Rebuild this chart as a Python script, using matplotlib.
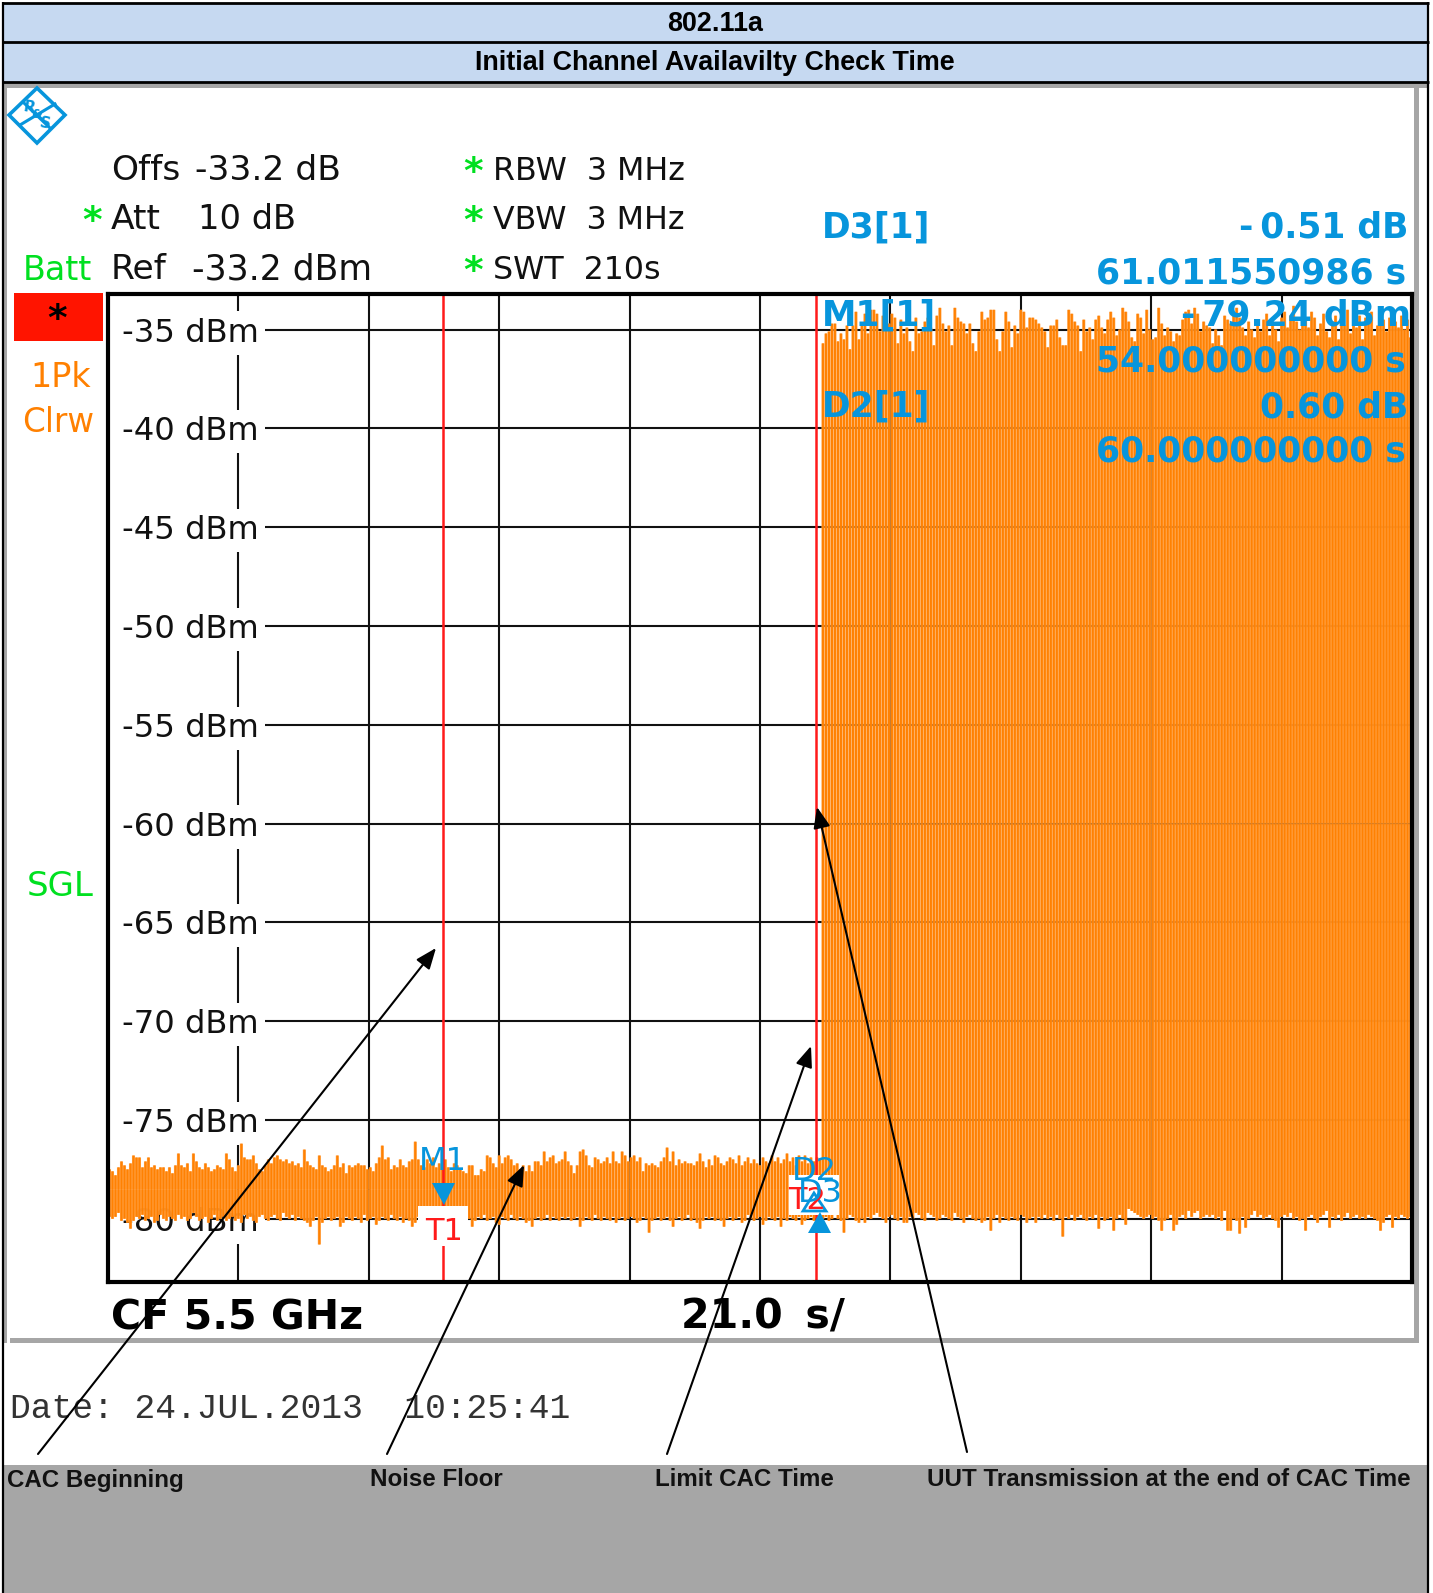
"""802.11a CAC screenshot: spectrum analyser zero-span trace with readouts and call-outs."""
import numpy as np
import matplotlib; matplotlib.use("Agg")
import matplotlib.pyplot as plt
from matplotlib.patches import Rectangle, Polygon

W, H = 1433, 1593
BLUE = "#0795dc"; GREEN = "#00e020"; ORANGE = "#ff8000"; RED = "#ff1a1a"; GREY = "#a6a6a6"

# trace values (dBm), one bar per sweep group
noise_top = [
 -77.5,-77.6,-77.8,-77.4,-77.1,-77.3,-77.5,-77.2,-76.8,-76.9,-76.9,-77.4,-77.1,-76.9,-77.4,-77.3,-77.5,-77.4,-77.4,-77.6,
 -77.4,-77.7,-77.3,-76.7,-77.3,-77.4,-77.2,-77.6,-76.7,-77.1,-77.4,-77.5,-77.2,-77.4,-77.6,-77.5,-77.3,-77.4,-77.5,-76.7,
 -77.0,-77.4,-77.6,-77.3,-76.2,-76.9,-77.0,-77.0,-76.8,-77.2,-77.5,-77.6,-77.3,-77.0,-77.2,-76.9,-76.8,-77.0,-77.1,-77.0,
 -77.2,-77.1,-77.3,-77.2,-77.4,-76.5,-77.1,-77.3,-77.4,-77.5,-76.8,-77.3,-77.4,-77.6,-77.5,-77.3,-76.8,-77.4,-77.2,-77.7,
 -77.3,-77.4,-77.3,-77.2,-77.3,-77.3,-77.5,-77.4,-77.6,-77.2,-76.9,-76.3,-77.0,-76.9,-77.5,-77.3,-77.4,-77.0,-77.3,-77.4,
 -77.1,-77.0,-76.1,-77.0,-77.3,-77.4,-77.0,-77.2,-76.9,-77.4,-77.2,-77.3,-77.0,-77.4,-77.6,-77.2,-77.3,-77.5,-77.6,-77.7,
 -77.3,-77.3,-77.8,-77.8,-77.5,-77.6,-76.8,-76.9,-77.2,-77.4,-76.8,-77.2,-76.9,-76.8,-77.0,-77.3,-77.2,-77.5,-77.3,-77.6,
 -77.3,-77.6,-77.1,-77.1,-77.3,-76.6,-77.1,-76.9,-76.8,-77.2,-77.1,-77.0,-76.6,-77.1,-77.3,-77.7,-77.3,-76.6,-76.5,-76.8,
 -77.3,-77.4,-76.9,-77.0,-77.2,-77.1,-76.9,-77.2,-76.6,-77.1,-77.2,-76.6,-76.8,-77.1,-76.9,-76.8,-77.1,-76.9,-77.6,-77.2,
 -77.3,-77.2,-77.3,-77.4,-77.1,-76.9,-76.4,-77.1,-76.6,-77.3,-77.0,-77.2,-77.1,-77.2,-77.2,-77.3,-77.1,-76.7,-77.1,-77.4,
 -77.0,-77.3,-76.8,-76.9,-77.2,-77.3,-77.1,-76.9,-77.0,-77.2,-76.8,-77.3,-77.1,-76.9,-77.2,-77.0,-77.2,-77.3,-76.9,-77.1,
 -77.2,-76.8,-77.1,-76.9,-77.2,-77.0,-76.7,-77.1,-76.9,-77.3,-76.8,-77.1,-76.8,-77.2,-76.9,-77.1,-76.9,-77.0]
noise_bot = [
 -79.9,-80.0,-79.9,-79.7,-80.1,-80.0,-80.2,-80.5,-80.1,-79.9,-80.0,-79.8,-80.1,-80.0,-79.9,-80.2,-80.1,-79.8,-80.0,-80.1,
 -79.9,-80.0,-80.1,-79.8,-80.0,-79.9,-80.1,-80.0,-79.7,-79.9,-80.1,-80.0,-79.9,-80.2,-80.0,-79.8,-80.1,-80.0,-79.9,-80.1,
 -80.0,-79.9,-80.1,-80.0,-80.2,-79.8,-80.0,-79.9,-80.1,-80.2,-79.9,-79.8,-80.0,-80.1,-79.9,-79.8,-80.0,-80.1,-79.7,-79.9,
 -80.0,-79.8,-80.1,-79.9,-80.0,-80.1,-80.2,-80.4,-80.1,-79.9,-81.3,-80.2,-80.0,-79.9,-80.1,-80.0,-79.9,-80.4,-80.2,-79.9,
 -80.0,-80.1,-79.9,-80.0,-80.2,-79.8,-80.1,-80.0,-79.9,-80.3,-80.1,-79.9,-80.0,-80.1,-79.8,-80.0,-80.1,-79.9,-80.2,-80.0,
 -80.1,-80.4,-80.2,-79.9,-80.0,-80.1,-79.9,-80.0,-80.2,-80.0,-79.9,-80.1,-80.0,-79.8,-80.1,-80.0,-79.9,-80.1,-80.0,-80.1,
 -80.0,-80.4,-80.1,-79.9,-80.0,-79.8,-80.1,-80.0,-79.9,-80.2,-80.3,-79.9,-80.0,-80.1,-79.8,-80.0,-80.1,-79.9,-80.0,-80.2,
 -80.1,-80.4,-80.0,-79.9,-80.1,-80.0,-79.8,-80.1,-79.9,-80.0,-80.1,-79.9,-80.0,-79.9,-80.1,-80.0,-79.9,-80.4,-80.1,-79.9,
 -80.0,-80.1,-79.8,-80.0,-80.1,-79.9,-80.0,-80.1,-79.9,-80.2,-80.0,-79.9,-80.1,-80.0,-79.9,-80.0,-80.2,-80.1,-79.9,-80.0,
 -80.7,-80.1,-80.0,-79.9,-80.1,-80.0,-79.9,-80.1,-80.4,-80.0,-79.9,-80.1,-80.0,-79.8,-80.1,-80.0,-80.2,-80.5,-80.1,-79.9,
 -80.0,-79.9,-80.1,-80.0,-80.1,-80.4,-80.0,-79.9,-80.1,-80.0,-79.9,-80.2,-80.1,-79.8,-80.0,-80.1,-80.0,-79.9,-80.3,-80.1,
 -79.9,-80.0,-80.1,-79.9,-80.4,-80.0,-80.1,-79.9,-80.0,-80.1,-79.9,-80.3,-80.1,-80.0,-79.9,-80.1,-80.0,-80.2]
tx_top = [
 -35.7,-35.2,-35.1,-34.7,-34.7,-35.6,-35.2,-35.5,-34.8,-36.0,-34.8,-34.1,-35.5,-34.7,-34.2,-35.2,-34.0,-34.0,-34.2,-35.1,
 -34.3,-33.9,-34.7,-34.2,-34.4,-35.7,-34.5,-35.2,-34.9,-35.6,-36.1,-34.4,-35.2,-35.1,-34.6,-34.4,-34.9,-35.8,-34.3,-33.9,
 -34.7,-35.1,-34.8,-35.8,-33.9,-34.4,-34.6,-34.7,-35.2,-34.7,-35.7,-36.1,-35.1,-34.1,-34.5,-34.4,-34.0,-34.0,-35.5,-36.1,
 -35.1,-34.1,-34.6,-35.9,-34.8,-35.2,-34.0,-34.1,-34.9,-34.4,-34.4,-34.5,-34.7,-34.9,-35.1,-35.9,-34.8,-34.8,-34.5,-35.4,
 -35.8,-35.8,-34.0,-34.2,-34.6,-34.8,-36.1,-34.5,-35.1,-34.9,-35.5,-34.5,-34.3,-34.9,-35.2,-34.5,-34.1,-34.4,-35.3,-35.0,
 -33.9,-34.1,-34.6,-35.4,-35.6,-34.2,-34.4,-35.2,-34.0,-35.0,-35.5,-35.4,-33.9,-34.7,-35.3,-34.9,-35.1,-35.6,-35.2,-35.3,
 -34.5,-34.1,-34.0,-34.7,-33.9,-34.2,-35.1,-34.6,-34.8,-34.9,-35.7,-35.0,-35.3,-35.8,-34.3,-34.5,-34.7,-34.2,-33.9,-34.4,
 -34.9,-35.3,-34.6,-35.0,-35.4,-34.7,-35.1,-34.5,-34.2,-35.3,-34.8,-35.0,-35.6,-34.4,-34.1,-34.9,-34.3,-33.8,-34.6,-35.0,
 -33.7,-34.5,-34.9,-34.1,-34.4,-35.3,-34.7,-34.2,-35.1,-35.4,-34.6,-34.3,-35.5,-34.5,-34.8,-34.0,-35.2,-34.6,-34.9,-34.3,
 -35.5,-34.4,-34.7,-34.1,-35.3,-34.8,-34.2,-34.5,-35.1,-34.4,-34.0,-34.6,-34.9,-34.3,-35.0,-34.5,-35.4]
tx_bot = [
 -80.0,-79.9,-80.1,-80.0,-79.8,-80.0,-80.1,-80.7,-80.0,-79.8,-79.9,-80.1,-80.2,-80.0,-80.2,-79.9,-80.0,-79.8,-79.7,-79.9,
 -80.0,-80.2,-79.9,-79.8,-80.0,-80.1,-79.9,-80.2,-80.2,-79.9,-80.0,-79.7,-79.8,-80.0,-80.1,-79.7,-79.8,-79.9,-80.1,-80.0,
 -79.8,-79.9,-80.0,-80.1,-79.7,-79.9,-80.0,-80.2,-79.9,-79.8,-80.0,-80.1,-80.0,-80.2,-80.1,-79.9,-80.6,-80.0,-79.8,-80.2,
 -79.9,-80.0,-80.1,-79.9,-80.0,-80.1,-79.8,-79.9,-80.2,-80.0,-79.9,-80.2,-79.9,-80.0,-79.8,-80.0,-79.9,-80.1,-79.8,-80.0,
 -80.9,-79.9,-80.0,-79.8,-80.1,-79.9,-79.8,-80.0,-80.1,-79.9,-80.0,-79.8,-80.5,-79.9,-80.1,-80.0,-79.9,-80.6,-80.0,-79.8,
 -80.0,-80.3,-79.5,-79.6,-79.7,-79.8,-79.9,-80.0,-79.9,-79.8,-80.0,-79.9,-80.1,-80.6,-80.1,-80.0,-79.8,-80.6,-80.3,-79.9,
 -79.8,-80.0,-79.6,-79.9,-79.7,-79.6,-80.0,-79.9,-79.8,-79.9,-79.8,-80.0,-79.9,-80.1,-79.6,-80.6,-80.6,-80.0,-80.1,-80.75,
 -79.9,-80.45,-80.0,-79.8,-79.6,-79.9,-79.8,-80.0,-79.9,-79.8,-80.0,-80.1,-80.45,-79.9,-79.8,-79.9,-79.7,-80.0,-79.9,-80.1,
 -80.0,-80.6,-79.9,-79.8,-80.0,-80.2,-79.9,-79.8,-79.6,-80.45,-79.9,-80.0,-79.8,-80.1,-79.9,-79.7,-80.0,-79.9,-79.8,-80.0,
 -79.9,-80.0,-79.8,-79.9,-80.0,-80.1,-80.6,-80.2,-79.9,-79.8,-80.45,-79.9,-80.0,-79.8,-79.9,-80.0,-79.9]

DB_TICKS = [-35, -40, -45, -50, -55, -60, -65, -70, -75, -80]
TIME_DIVS = [21, 42, 63, 84, 105, 126, 147, 168, 189]
T1 = 54.0; T2 = 114.0; TX_START = 114.9; SWEEP = 210.0
REF = -33.2; BOTTOM = -83.2
TITLES = ["802.11a", "Initial Channel Availavilty Check Time"]
CALLOUTS = ["CAC Beginning", "Noise Floor", "Limit CAC Time", "UUT Transmission at the end of CAC Time"]
# call-out arrows in picture pixels: tail x, tail y, head x, head y
ARROWS = [(38, 1454, 436, 948), (387, 1454, 524, 1165), (667, 1454, 811, 1046), (967, 1452, 817, 807)]

plt.rcParams["font.family"] = ["DejaVu Sans"]
fig = plt.figure(figsize=(W/100, H/100), dpi=100, facecolor="white")

def px_ax(z):
    a = fig.add_axes([0, 0, 1, 1], zorder=z); a.set_xlim(0, W); a.set_ylim(H, 0); a.axis("off"); a.patch.set_alpha(0)
    return a

# --- page furniture
bg = px_ax(0)
bg.add_patch(Rectangle((3, 3), 1425, 40, fc="#c6d9f1", ec="none"))
bg.add_patch(Rectangle((3, 43), 1425, 40, fc="#c6d9f1", ec="none"))
bg.add_patch(Rectangle((3, 83), 1425, 4.5, fc=GREY, ec="none"))
bg.add_patch(Rectangle((4, 83), 3.5, 1260, fc=GREY, ec="none"))
bg.add_patch(Rectangle((1414, 87), 5, 1256, fc=GREY, ec="none"))
bg.add_patch(Rectangle((10, 1338), 1409, 5, fc=GREY, ec="none"))
bg.add_patch(Rectangle((3, 1465), 1425, H-1465, fc=GREY, ec="none"))
for y in (3, 42, 82):
    bg.plot([2, 1429], [y, y], color="black", lw=2.0, solid_capstyle="butt")
for x in (3, 1428):
    bg.plot([x, x], [2, H], color="black", lw=1.6, solid_capstyle="butt")
bg.text(715, 24, TITLES[0], ha="center", va="center", family="Liberation Sans", weight="bold", fontsize=19.4)
bg.text(715, 63, TITLES[1], ha="center", va="center", family="Liberation Sans", weight="bold", fontsize=19.4)

# logo
bg.add_patch(Polygon([(37, 88), (65, 115), (37, 143), (9, 115)], closed=True, fc="white", ec=BLUE, lw=2.6))
bg.plot([20, 55], [125, 104], color=BLUE, lw=2.2)
bg.plot([24, 50], [103, 128], color=BLUE, lw=2.2)
bg.text(29, 108, "R", color=BLUE, fontsize=11, weight="bold", ha="center", va="center", rotation=-10)
bg.text(37, 115, "&", color=BLUE, fontsize=9, weight="bold", ha="center", va="center")
bg.text(45, 124, "S", color=BLUE, fontsize=11, weight="bold", ha="center", va="center", rotation=-10)

# settings block
FS = 23.2
for x, y, s, fs in [(111, 180, "Offs", 24.8), (195, 180, "-33.2 dB", 24.8), (111, 229, "Att", 24.8), (198, 229, "10 dB", 24.2),
                    (111, 279, "Ref", 24.8), (192, 279, "-33.2 dBm", 24.9), (493, 180, "RBW  3 MHz", 22.8),
                    (493, 229, "VBW  3 MHz", 22.8), (493, 279, "SWT  210s", 22.8)]:
    bg.text(x, y, s, fontsize=fs, va="baseline", color="#111111")
for x, y in [(82, 232), (463, 183), (463, 232), (463, 282)]:
    bg.text(x, y, "*", fontsize=27, weight="bold", va="baseline", color=GREEN)
bg.text(23, 280, "Batt", fontsize=24, color=GREEN, va="baseline")
bg.text(27, 896, "SGL", fontsize=24.5, color=GREEN, va="baseline")
bg.text(30, 387, "1Pk", fontsize=24, color=ORANGE, va="baseline")
bg.text(22, 432, "Clrw", fontsize=23.5, color=ORANGE, va="baseline")
bg.add_patch(Rectangle((14, 293), 89, 48, fc="#ff1400", ec="none"))
bg.text(57, 330, "*", fontsize=27, weight="bold", ha="center", va="baseline", color="black")
bg.text(10, 1409, "Date: 24.JUL.2013  10:25:41", family="Liberation Mono", fontsize=24.9, va="center", color="#333333")

# --- the trace itself, on real dBm / seconds scales
L, R, T, B = 108, 1412, 294, 1282
ax = fig.add_axes([L/W, 1-B/H, (R-L)/W, (B-T)/H], zorder=1)
ax.set_xlim(0, SWEEP); ax.set_ylim(BOTTOM, REF); ax.set_xticks([]); ax.set_yticks([]); ax.patch.set_alpha(0)
for s in ax.spines.values():
    s.set_linewidth(3.0); s.set_zorder(6)

for t in TIME_DIVS:
    ax.axvline(t, color="#111111", lw=1.5, zorder=1)
for d in DB_TICKS:
    ax.plot([24.3, SWEEP], [d, d], color="#111111", lw=1.5, zorder=1)
    ax.annotate(f"{d} dBm", (2.3, d), xytext=(0, -2.5), textcoords="offset points", fontsize=FS, va="center", ha="left",
                color="#111111", zorder=2, bbox=dict(fc="white", ec="none", pad=4.5))

def bars(start, stop, levels, mid):
    n = len(levels); dt = (stop-start)/n
    t = start + (np.arange(n)+0.5)*dt
    # pale under-layer closes the gaps, darker bar on top gives the striped look
    ax.bar(t, np.array(levels)-mid, bottom=mid, width=dt*1.02, color="#ff9f40", alpha=0.95, lw=0, zorder=3, snap=False)
    ax.bar(t, np.array(levels)-mid, bottom=mid, width=dt*0.66, color=ORANGE, alpha=0.97, lw=0, zorder=3, snap=False)

bars(0, TX_START, noise_top, -78.5); bars(0, TX_START, noise_bot, -78.5)
bars(TX_START, SWEEP, tx_top, -60); bars(TX_START, SWEEP, tx_bot, -60)
ax.axvline(T1, color=RED, lw=1.8, zorder=4)
ax.axvline(T2, color=RED, lw=1.8, zorder=4)

# --- markers, readouts and call-outs sit on top
top = px_ax(5)
top.add_patch(Rectangle((418, 1206), 50, 40, fc="white", ec="none"))
top.add_patch(Rectangle((789, 1175), 50, 40, fc="white", ec="none"))
top.text(444, 1240, "T1", color=RED, fontsize=22, ha="center", va="baseline")
top.text(807, 1209, "T2", color=RED, fontsize=22, ha="center", va="baseline")
top.text(443, 1170, "M1", color=BLUE, fontsize=23, ha="center", va="baseline")
top.text(814, 1180, "D2", color=BLUE, fontsize=23, ha="center", va="baseline")
top.text(820, 1202, "D3", color=BLUE, fontsize=23, ha="center", va="baseline")
top.add_patch(Polygon([(432, 1183), (455, 1183), (444, 1205)], closed=True, fc=BLUE, ec="none"))
top.add_patch(Polygon([(814, 1193), (803, 1211), (826, 1211)], closed=True, fc="none", ec=BLUE, lw=2))
top.add_patch(Polygon([(820, 1212), (808, 1233), (831, 1233)], closed=True, fc=BLUE, ec="none"))

RFS = 24.9
for y, left, right, rx in [(238, "D3[1]", "-\u20090.51 dB", 1408), (283, "", "61.011550986 s", 1406),
                           (326, "M1[1]", "-\u200979.24 dBm", 1411), (372, "", "54.000000000 s", 1406),
                           (417, "D2[1]", "0.60 dB", 1408), (461, "", "60.000000000 s", 1406)]:
    if left:
        top.text(822, y, left, color=BLUE, weight="bold", fontsize=RFS, va="baseline")
    top.text(rx, y, right, color=BLUE, weight="bold", fontsize=RFS, va="baseline", ha="right")

top.text(111, 1329, "CF 5.5 GHz", weight="bold", fontsize=29.6, va="baseline", color="black")
top.text(681, 1329, "21.0\u2009 s/", weight="bold", fontsize=29.6, va="baseline", color="black")

for x, s in zip([7, 370, 655, 927], CALLOUTS):
    top.text(x, 1480, s, family="Liberation Sans", weight="bold", fontsize=17.4, va="center", color="#111111")
for x0, y0, x1, y1 in ARROWS:
    top.annotate("", xy=(x1, y1), xytext=(x0, y0),
                 arrowprops=dict(arrowstyle="-|>,head_length=0.75,head_width=0.3", color="black", lw=1.5,
                                 shrinkA=0, shrinkB=0, mutation_scale=17))

fig.savefig("out.png", dpi=100)
